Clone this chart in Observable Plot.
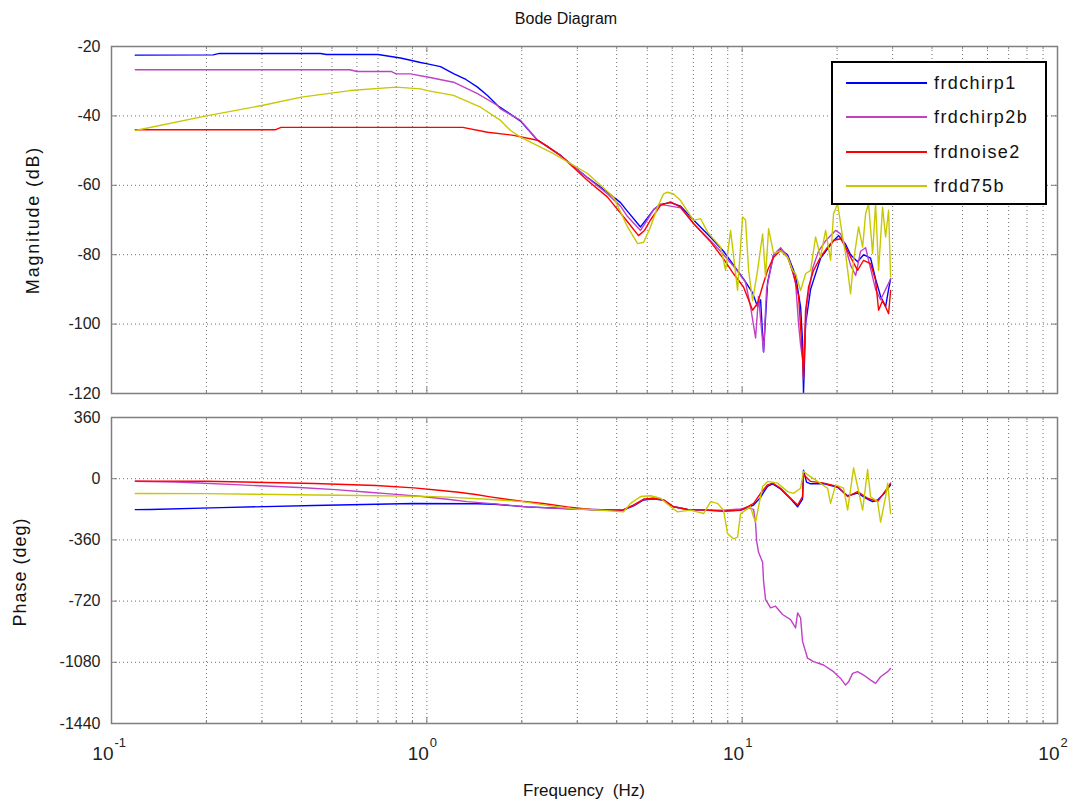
<!DOCTYPE html>
<html><head><meta charset="utf-8">
<script src="https://cdn.jsdelivr.net/npm/d3@7"></script>
<script src="https://cdn.jsdelivr.net/npm/@observablehq/plot@0.6"></script>
<style>
body{margin:0;background:#fff;}
#wrap{position:relative;width:1074px;height:803px;font-family:"Liberation Sans",Arial,sans-serif;color:#000;overflow:hidden;background:#fff}
#wrap svg{position:absolute;left:0}
.lbl{position:absolute;white-space:pre;font-size:16px;line-height:16px;color:#111}
.rot{transform:translate(-50%,-50%) rotate(-90deg)}
#legend{position:absolute;left:831px;top:61px;width:212px;height:140px;border:2px solid #000;background:#fff}
.row{position:absolute;left:0;height:20px;width:212px}
.row span.sw{position:absolute;left:13px;top:9px;width:81px;height:2px}
.row span.tx{position:absolute;left:101px;top:0;font-size:18px;line-height:20px;letter-spacing:1.4px;color:#111;white-space:pre}
</style></head><body><div id="wrap"></div>
<script>
// ---------- data ----------
const seriesNames  = ["frdchirp1", "frdchirp2b", "frdnoise2", "frdd75b"];
const seriesColors = ["#0000ff", "#c040c8", "#ff0000", "#c8c800"];
const magTicks   = [-120, -100, -80, -60, -40, -20];
const phaseTicks = [-1440, -1080, -720, -360, 0, 360];
const freqTicks  = [0.1, 1, 10, 100];
const freqExponents = ["-1", "0", "1", "2"];
const titleText = "Bode Diagram";
const xLabel = "Frequency  (Hz)";
const magLabel = "Magnitude (dB)";
const phaseLabel = "Phase (deg)";

// magnitude [Hz, dB]
const chirp1Mag = [[0.119,-22.5],[0.21,-22.4],[0.22,-22.0],[0.46,-22.0],[0.48,-22.3],[0.70,-22.3],[0.825,-23.3],[0.955,-24.6],[1.005,-25.0],[1.105,-25.8],[1.215,-27.8],[1.33,-29.5],[1.448,-31.7],[1.56,-34.2],[1.676,-37.0],[1.84,-39.5],[1.983,-41.5],[2.244,-47],[2.655,-51.4],[3.234,-57.8],[3.741,-62],[4.113,-65],[4.33,-67.5],[4.76,-72],[5.0,-69.5],[5.24,-67],[5.51,-65.5],[5.93,-65],[6.38,-66],[7.01,-70],[7.94,-75],[8.73,-79],[9.39,-83],[10.10,-87],[10.79,-91],[11.19,-95],[11.44,-93],[11.69,-108],[12.04,-88],[12.58,-80],[13.24,-78.5],[13.93,-80],[14.77,-86],[15.32,-95],[15.54,-105],[15.65,-120],[15.89,-100],[16.48,-90],[17.73,-81],[19.49,-76],[20.22,-74.5],[21.28,-77],[22.07,-80],[23.23,-82],[24.27,-80],[25.54,-81],[26.49,-87],[27.48,-92],[28.50,-95],[29.13,-90],[29.56,-87]];
const chirp2bMag = [[0.119,-26.7],[0.57,-26.7],[0.60,-27.2],[0.77,-27.2],[0.80,-27.9],[0.887,-27.9],[1.005,-28.8],[1.215,-30.3],[1.448,-33.6],[1.676,-37],[1.713,-38],[1.983,-41.3],[2.244,-47],[2.655,-51.4],[3.234,-57.8],[3.741,-62.5],[4.113,-66],[4.33,-69],[4.76,-73],[5.0,-70],[5.24,-67],[5.51,-65.5],[6.38,-66.5],[7.01,-71],[7.94,-76],[8.54,-79],[9.53,-84],[10.25,-88],[10.63,-95],[11.03,-104],[11.27,-92],[11.69,-108],[11.95,-90],[12.58,-80],[13.24,-78],[14.04,-81],[14.77,-88],[15.10,-100],[15.32,-106],[15.65,-112],[16.00,-95],[16.72,-84],[17.47,-79],[18.39,-76],[19.78,-73],[20.52,-74],[21.28,-78],[22.07,-83],[22.90,-86],[23.75,-79],[24.63,-78],[25.54,-84],[26.49,-90],[27.48,-93],[28.50,-90],[29.56,-87]];
const noise2Mag = [[0.119,-44],[0.33,-44],[0.345,-43.3],[1.30,-43.3],[1.557,-44.7],[1.884,-45.6],[2.244,-47],[2.414,-48.8],[2.655,-51.4],[3.234,-58.6],[3.741,-63.4],[4.33,-70.5],[4.69,-74.5],[4.9,-73],[5.12,-70],[5.51,-65.8],[5.93,-64.8],[6.38,-66.3],[7.01,-71],[7.94,-76.3],[8.73,-81.2],[9.39,-85.5],[10.10,-89.3],[10.79,-96],[11.19,-94],[11.61,-89],[12.04,-84.5],[12.58,-80.7],[13.24,-78.8],[13.93,-80.7],[14.55,-85.5],[15.10,-92],[15.54,-109.5],[15.65,-116],[15.89,-96],[16.24,-89.3],[16.84,-84.5],[17.73,-80.7],[18.66,-77.8],[19.49,-75.9],[20.52,-75.4],[21.28,-77.8],[22.07,-80.7],[23.23,-84.5],[24.27,-81.6],[25.54,-82.6],[26.49,-87.4],[27.08,-96],[27.88,-93.2],[28.50,-95],[29.13,-97],[29.56,-90.3]];
const d75bMag = [[0.119,-44.2],[0.2,-40],[0.3,-37],[0.4,-34.6],[0.57,-32.7],[0.8,-31.7],[0.955,-32.2],[1.005,-32.7],[1.215,-34.1],[1.48,-37.5],[1.713,-41.3],[1.843,-44.2],[1.983,-46.1],[2.521,-50.9],[3.234,-56.6],[3.909,-63.4],[4.332,-72],[4.66,-76.8],[4.87,-76.4],[5.12,-72],[5.39,-66.3],[5.63,-62.5],[5.80,-62],[6.06,-62.5],[6.378,-64.4],[7.01,-70.1],[7.38,-69.6],[7.77,-73.5],[8.54,-77.8],[8.86,-84.5],[9.19,-73],[9.67,-90.3],[10.03,-69.1],[10.25,-70],[10.48,-84.5],[10.79,-93.2],[11.19,-84.5],[11.61,-74],[11.86,-86.4],[12.13,-72.5],[12.58,-79.7],[13.24,-78.8],[13.93,-80.7],[14.45,-84.5],[14.77,-85.5],[15.32,-90.3],[15.89,-85.5],[16.48,-84.5],[17.09,-74.9],[17.73,-80.7],[18.39,-73],[19.07,-81.6],[19.49,-68.2],[20.07,-65.3],[20.82,-74.9],[21.28,-79.7],[22.07,-91.3],[22.56,-81.6],[23.40,-72],[24.10,-77.8],[24.63,-68.2],[25.17,-65.3],[25.92,-79.7],[26.49,-65.3],[27.08,-84.5],[27.88,-66.3],[28.50,-74.9],[29.13,-67.2],[29.56,-86.4]];

// phase [Hz, deg]
const chirp1Phase = [[0.119,-182],[0.133,-181],[0.222,-170],[0.437,-158],[0.908,-146],[1.45,-147],[1.64,-150],[2.07,-166],[2.96,-178],[3.305,-181],[4.176,-186],[4.524,-160],[4.867,-125],[5.236,-118],[5.633,-127],[6.06,-165],[6.713,-181],[7.769,-186],[8.73,-190],[9.883,-186],[10.40,-170],[10.87,-155],[11.44,-110],[11.69,-80],[12.04,-45],[12.49,-30],[13.24,-60],[14.24,-118],[14.99,-165],[15.54,-120],[15.65,50],[16.00,-20],[16.48,-30],[18.12,-28],[20.07,-50],[21.60,-100],[23.23,-85],[24.99,-120],[25.92,-135],[26.88,-125],[28.09,-90],[29.56,-36]];
const chirp2bPhase = [[0.119,-15],[0.16,-20],[0.19,-25],[0.266,-38],[0.394,-52],[0.513,-64],[0.639,-78],[0.762,-89],[0.948,-103],[1.18,-122],[1.34,-135],[1.64,-148],[2.07,-166],[2.96,-178],[3.305,-181],[4.176,-185],[4.524,-155],[4.867,-121],[5.236,-115],[5.633,-125],[6.06,-165],[6.713,-181],[7.769,-185],[8.73,-185],[9.883,-178],[10.40,-170],[10.87,-180],[11.03,-265],[11.11,-364],[11.27,-433],[11.61,-492],[11.69,-601],[11.86,-710],[12.30,-760],[12.76,-750],[13.43,-799],[14.24,-829],[14.77,-878],[14.99,-789],[15.32,-819],[15.54,-957],[16.12,-1056],[16.84,-1076],[18.12,-1096],[19.49,-1135],[20.52,-1175],[21.28,-1214],[21.75,-1195],[22.40,-1145],[23.23,-1135],[24.27,-1155],[25.54,-1185],[26.49,-1204],[27.48,-1165],[28.93,-1135],[29.56,-1116]];
const noise2Phase = [[0.119,-14],[0.2,-15],[0.44,-28],[0.69,-40],[0.91,-54],[1.09,-68],[1.26,-80],[1.43,-93],[1.59,-107],[1.79,-121],[2.0,-133],[2.34,-146],[2.79,-166],[3.305,-181],[4.176,-185],[4.524,-155],[4.867,-121],[5.236,-115],[5.633,-125],[6.06,-165],[6.713,-181],[7.769,-185],[8.73,-191],[9.883,-185],[10.40,-165],[10.87,-145],[11.44,-86],[12.04,-36],[12.49,-26],[13.24,-56],[14.24,-115],[14.99,-155],[15.54,-105],[15.65,24],[16.48,-16],[18.12,-26],[20.07,-46],[21.60,-105],[23.23,-76],[24.99,-115],[26.88,-135],[28.09,-86],[29.56,-26]];
const d75bPhase = [[0.119,-87],[0.2,-88],[0.525,-97],[1.0,-104],[1.21,-110],[1.6,-122],[2.01,-135],[2.47,-160],[2.96,-178],[3.305,-181],[4.206,-195],[4.426,-145],[4.761,-105],[5.123,-100],[5.511,-115],[5.929,-165],[6.24,-195],[6.862,-185],[7.545,-205],[7.941,-135],[8.357,-145],[8.73,-185],[8.989,-324],[9.391,-354],[9.67,-344],[9.883,-205],[10.25,-185],[10.63,-165],[10.87,-225],[11.03,-255],[11.27,-165],[11.61,-46],[12.04,-16],[12.95,-26],[13.93,-76],[14.55,-86],[15.32,-56],[15.65,44],[16.12,24],[17.34,-16],[18.66,-56],[19.07,-145],[19.78,-36],[20.97,-56],[21.60,-185],[22.56,64],[23.23,-46],[24.10,-185],[24.99,54],[25.54,-106],[26.88,-135],[27.48,-255],[28.50,-106],[28.93,-26],[29.56,-205]];

const magSeries   = [chirp1Mag, chirp2bMag, noise2Mag, d75bMag];
const phaseSeries = [chirp1Phase, chirp2bPhase, noise2Phase, d75bPhase];

// ---------- layout ----------
const W = 1074, mL = 111, mR = 17;
const plotW = W - mL - mR;
const fontFamily = '"Liberation Sans", Arial, sans-serif';
const gridColor = "#6e6e6e";
const boxColor = "#7f7f7f";
const minorFreqs = freqTicks.slice(0, -1).flatMap(d => d3.range(2, 10).map(k => d * k));
const allGridFreqs = freqTicks.concat(minorFreqs);

function panel(series, yTicks, yDomain, height, mTop, mBottom, withXLabels) {
  const plotH = height - mTop - mBottom;
  const marks = [
    Plot.ruleX(allGridFreqs, {x: d => d, stroke: gridColor, strokeDasharray: "1,3", strokeWidth: 1}),
    Plot.ruleY(yTicks, {y: d => d, stroke: gridColor, strokeDasharray: "1,3", strokeWidth: 1}),
    // inward ticks
    Plot.tickY(yTicks, {y: d => d, insetRight: plotW - 6, stroke: boxColor}),
    Plot.tickY(yTicks, {y: d => d, insetLeft: plotW - 6, stroke: boxColor}),
    Plot.tickX(freqTicks, {x: d => d, insetTop: plotH - 6, stroke: boxColor}),
    Plot.tickX(freqTicks, {x: d => d, insetBottom: plotH - 6, stroke: boxColor}),
    Plot.tickX(minorFreqs, {x: d => d, insetTop: plotH - 3, stroke: boxColor}),
    Plot.tickX(minorFreqs, {x: d => d, insetBottom: plotH - 3, stroke: boxColor}),
    Plot.axisY(yTicks, {tickSize: 0, tickPadding: 11, fontSize: 16, label: null, tickFormat: d => String(d), fill: "#222"})
  ];
  series.forEach((s, i) => {
    marks.push(Plot.line(s, {x: d => d[0], y: d => d[1], stroke: seriesColors[i], strokeWidth: 1.4, clip: true, curve: "linear"}));
  });
  marks.push(Plot.frame({stroke: boxColor, strokeWidth: 1.5}));
  if (withXLabels) {
    marks.push(Plot.text(freqTicks, {x: d => d, text: () => "10", frameAnchor: "bottom", textAnchor: "end", lineAnchor: "bottom", dx: 2, dy: 36, fontSize: 19, fill: "#222"}));
    marks.push(Plot.text(freqTicks, {x: d => d, text: (d, i) => freqExponents[i], frameAnchor: "bottom", textAnchor: "start", lineAnchor: "bottom", dx: 3, dy: 23, fontSize: 13, fill: "#222"}));
  }
  return Plot.plot({
    width: W, height,
    marginLeft: mL, marginRight: mR, marginTop: mTop, marginBottom: mBottom,
    x: {type: "log", domain: [0.1, 100], axis: null},
    y: {domain: yDomain},
    style: {fontFamily, background: "transparent", overflow: "visible"},
    marks
  });
}

const wrap = document.getElementById("wrap");
const magPlot = panel(magSeries, magTicks, [-120, -20], 400, 46, 7, false);
magPlot.style.top = "0px";
wrap.appendChild(magPlot);
const phasePlot = panel(phaseSeries, phaseTicks, [-1440, 360], 403, 17, 80, true);
phasePlot.style.top = "400px";
wrap.appendChild(phasePlot);

function addLabel(text, cx, cy, cls, extra) {
  const d = document.createElement("div");
  d.className = "lbl " + (cls || "");
  d.textContent = text;
  d.style.left = cx + "px";
  d.style.top = cy + "px";
  if (!cls) d.style.transform = "translate(-50%,-50%)";
  if (extra) Object.assign(d.style, extra);
  wrap.appendChild(d);
}
addLabel(titleText, 566, 19);
addLabel(xLabel, 584, 791, null, {fontSize: "17px"});
addLabel(magLabel, 33, 220, "rot", {fontSize: "18px", letterSpacing: "1.8px"});
addLabel(phaseLabel, 20, 572, "rot", {fontSize: "18px", letterSpacing: "1px"});

// legend
const leg = document.createElement("div");
leg.id = "legend";
seriesNames.forEach((name, i) => {
  const r = document.createElement("div");
  r.className = "row";
  r.style.top = (10 + i * 34.4) + "px";
  const sw = document.createElement("span");
  sw.className = "sw";
  sw.style.backgroundColor = seriesColors[i];
  const tx = document.createElement("span");
  tx.className = "tx";
  tx.textContent = name;
  r.appendChild(sw); r.appendChild(tx);
  leg.appendChild(r);
});
wrap.appendChild(leg);
</script></body></html>
